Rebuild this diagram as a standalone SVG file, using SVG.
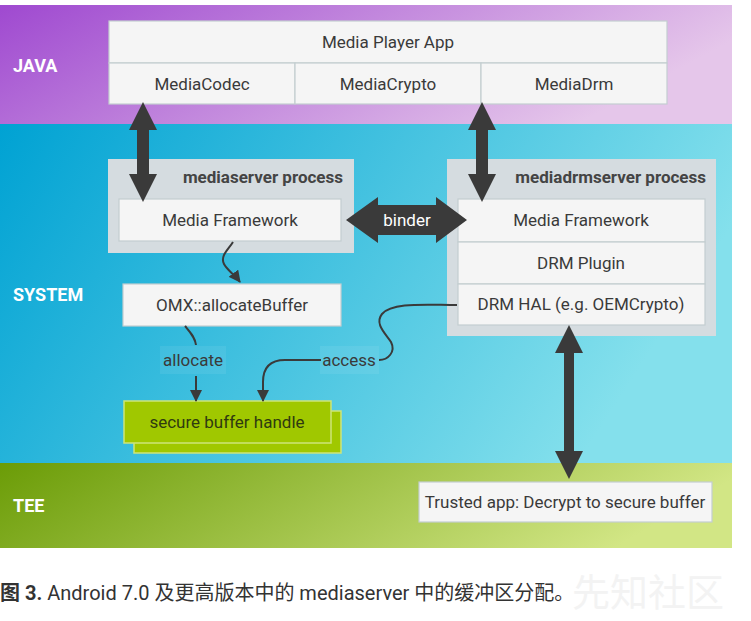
<svg xmlns="http://www.w3.org/2000/svg" width="751" height="621" viewBox="0 0 751 621">
<defs>
<linearGradient id="gJava" x1="0" y1="0" x2="1" y2="0.3">
<stop offset="0" stop-color="#9f49d0"/><stop offset="1" stop-color="#e5c6ea"/>
</linearGradient>
<linearGradient id="gSys" x1="0" y1="0" x2="1" y2="0.3">
<stop offset="0" stop-color="#00a2d3"/><stop offset="1" stop-color="#84e0ec"/>
</linearGradient>
<linearGradient id="gTee" x1="0" y1="0" x2="1" y2="0.2">
<stop offset="0" stop-color="#6b9c07"/><stop offset="1" stop-color="#d2e685"/>
</linearGradient>
<marker id="ah" markerWidth="12" markerHeight="12" refX="11" refY="6" orient="auto" markerUnits="userSpaceOnUse">
<path d="M0,0 L12,6 L0,12 Z" fill="#3a3a3a"/>
</marker>
<style>
.box{fill:#f5f5f5;stroke:#c3cdd0;stroke-width:1.2}
.proc{fill:#d5dce0}
.t{font-family:Roboto,"Liberation Sans",sans-serif;font-size:17px;fill:#3a3a3a;text-anchor:middle}
.pl{font-family:Roboto,"Liberation Sans",sans-serif;font-size:17px;font-weight:bold;fill:#444;text-anchor:end}
.band{font-family:Roboto,"Liberation Sans",sans-serif;font-size:18px;font-weight:bold;fill:#fff}
.arr{fill:#3a3a3a}
.wire{fill:none;stroke:#3a3a3a;stroke-width:2}
.lbg{fill:#ffffff;fill-opacity:0.07}
.green{fill:#a0c800;stroke:#cde57a;stroke-width:1.5}
</style>
</defs>
<rect width="751" height="621" fill="#fff"/>
<g id="bands">
<rect x="0" y="5" width="732" height="119" fill="url(#gJava)"/>
<rect x="0" y="124" width="732" height="339" fill="url(#gSys)"/>
<rect x="0" y="463" width="732" height="85" fill="url(#gTee)"/>
<text class="band" x="13" y="72">JAVA</text>
<text class="band" x="13" y="301">SYSTEM</text>
<text class="band" x="13" y="512">TEE</text>
</g>
<g id="java-app">
<rect class="box" x="109" y="21" width="558" height="42"/>
<text class="t" x="388" y="48">Media Player App</text>
</g>
<g id="mediacodec">
<rect class="box" x="109" y="63" width="186" height="41"/>
<text class="t" x="202" y="90">MediaCodec</text>
</g>
<g id="mediacrypto">
<rect class="box" x="295" y="63" width="186" height="41"/>
<text class="t" x="388" y="90">MediaCrypto</text>
</g>
<g id="mediadrm">
<rect class="box" x="481" y="63" width="186" height="41"/>
<text class="t" x="574" y="90">MediaDrm</text>
</g>
<g id="mediaserver">
<rect class="proc" x="108" y="159" width="246" height="94"/>
<text class="pl" x="343" y="183">mediaserver process</text>
<rect class="box" x="119" y="199" width="222" height="42"/>
<text class="t" x="230" y="226">Media Framework</text>
</g>
<g id="mediadrmserver">
<rect class="proc" x="447" y="159" width="269" height="177"/>
<text class="pl" x="706" y="183">mediadrmserver process</text>
<rect class="box" x="458" y="199" width="247" height="43"/>
<text class="t" x="581" y="226">Media Framework</text>
<rect class="box" x="458" y="242" width="247" height="42"/>
<text class="t" x="581" y="269">DRM Plugin</text>
<rect class="box" x="458" y="284" width="247" height="41"/>
<text class="t" x="581" y="310">DRM HAL (e.g. OEMCrypto)</text>
</g>
<g id="omx">
<rect class="box" x="123" y="284" width="218" height="42"/>
<text class="t" x="232" y="311">OMX::allocateBuffer</text>
</g>
<g id="secure-buffer">
<rect class="green" x="134" y="411" width="207" height="42"/>
<rect class="green" x="124" y="401" width="207" height="42"/>
<text class="t" x="227" y="428" style="fill:#2f3a10">secure buffer handle</text>
</g>
<g id="trusted-app">
<rect class="box" x="419" y="482" width="293" height="40"/>
<text class="t" x="565" y="508">Trusted app: Decrypt to secure buffer</text>
</g>
<g id="connectors">
<polygon class="arr" points="143,102 157,130 149,130 149,174 157,174 143,202 129,174 137,174 137,130 129,130"/>
<polygon class="arr" points="482,102 496,130 488,130 488,174 496,174 482,202 468,174 476,174 476,130 468,130"/>
<polygon class="arr" points="569,325 583,353 574,353 574,451 583,451 569,479 555,451 564,451 564,353 555,353"/>
<polygon class="arr" points="346,220 378,197 378,205 436,205 436,197 467,220 436,243 436,235 378,235 378,243"/>
<text x="407" y="226" style="font-family:Roboto,'Liberation Sans',sans-serif;font-size:17px;fill:#fff;text-anchor:middle">binder</text>
<path class="wire" d="M233,242 C228,250 220,256 224,264 C227,270 234,274 240,282" marker-end="url(#ah)"/>
<path class="wire" d="M185,326 C190,332 195,337 196,345"/>
<rect class="lbg" x="160" y="346" width="66" height="28"/>
<text class="t" x="193" y="366">allocate</text>
<path class="wire" d="M196,376 L196,401" marker-end="url(#ah)"/>
<path class="wire" d="M457,305 C425,305 392,302 382,314 C374,324 386,334 391,342 C396,352 388,360 379,360"/>
<rect class="lbg" x="320" y="346" width="59" height="28"/>
<text class="t" x="349" y="366">access</text>
<path class="wire" d="M321,360 L285,360 C270,360 263,368 263,382 L263,401" marker-end="url(#ah)"/>
</g>
<g id="caption">
<text x="0" y="600" style="font-family:Roboto,'Noto Sans CJK SC',sans-serif;font-size:20px;fill:#333"><tspan font-weight="bold">图 3.</tspan> Android 7.0 及更高版本中的 mediaserver 中的缓冲区分配。</text>
<text x="572" y="606" style="font-family:'Noto Sans CJK SC',sans-serif;font-size:38px;fill:#f3f3f3">先知社区</text>
</g>
</svg>
